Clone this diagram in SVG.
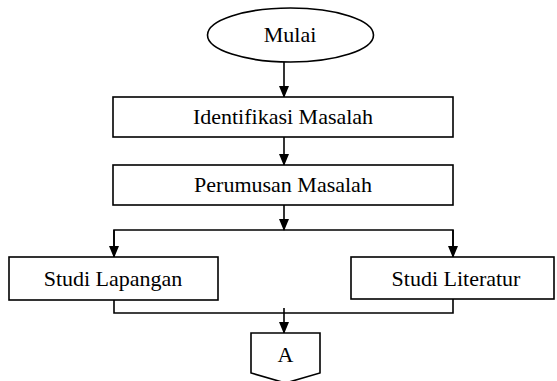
<svg xmlns="http://www.w3.org/2000/svg" width="557" height="381" viewBox="0 0 557 381">
<style>
.s{fill:#fff;stroke:#000;stroke-width:1.6}
.t{font-family:"Liberation Serif","Times New Roman",serif;font-size:22px;fill:#000;text-anchor:middle}
.c{fill:none;stroke:#000;stroke-width:1.6}
</style>
<defs>
<marker id="ah" markerWidth="12" markerHeight="10" refX="11" refY="5" orient="auto" markerUnits="userSpaceOnUse">
<path d="M0,0 L12,5 L0,10 Z" fill="#000"/>
</marker>
</defs>
<rect width="557" height="381" fill="#fff"/>
<g id="connectors">
<line class="c" x1="284" y1="62" x2="284" y2="97" marker-end="url(#ah)"/>
<line class="c" x1="284" y1="137" x2="284" y2="165" marker-end="url(#ah)"/>
<line class="c" x1="284" y1="205" x2="284" y2="230" marker-end="url(#ah)"/>
<polyline class="c" points="114,257 114,230 453,230 453,257"/>
<line class="c" x1="114" y1="230" x2="114" y2="257" marker-end="url(#ah)"/>
<line class="c" x1="453" y1="230" x2="453" y2="257" marker-end="url(#ah)"/>
<polyline class="c" points="114,300 114,313 453,313 453,299"/>
<line class="c" x1="284" y1="308" x2="284" y2="333" marker-end="url(#ah)"/>
</g>
<g id="mulai">
<ellipse class="s" cx="290.5" cy="35" rx="83" ry="27"/>
<text class="t" x="290" y="42">Mulai</text>
</g>
<g id="identifikasi">
<rect class="s" x="113" y="97" width="340" height="40"/>
<text class="t" x="283" y="124">Identifikasi Masalah</text>
</g>
<g id="perumusan">
<rect class="s" x="113" y="165" width="340" height="40"/>
<text class="t" x="283" y="192">Perumusan Masalah</text>
</g>
<g id="lapangan">
<rect class="s" x="9" y="257" width="209" height="43"/>
<text class="t" x="113" y="286">Studi Lapangan</text>
</g>
<g id="literatur">
<rect class="s" x="351" y="257" width="203" height="42"/>
<text class="t" x="456" y="286">Studi Literatur</text>
</g>
<g id="A">
<polygon class="s" points="251,333 320,333 320,373 285.5,383 251,373"/>
<text class="t" x="285.5" y="362">A</text>
</g>
</svg>
